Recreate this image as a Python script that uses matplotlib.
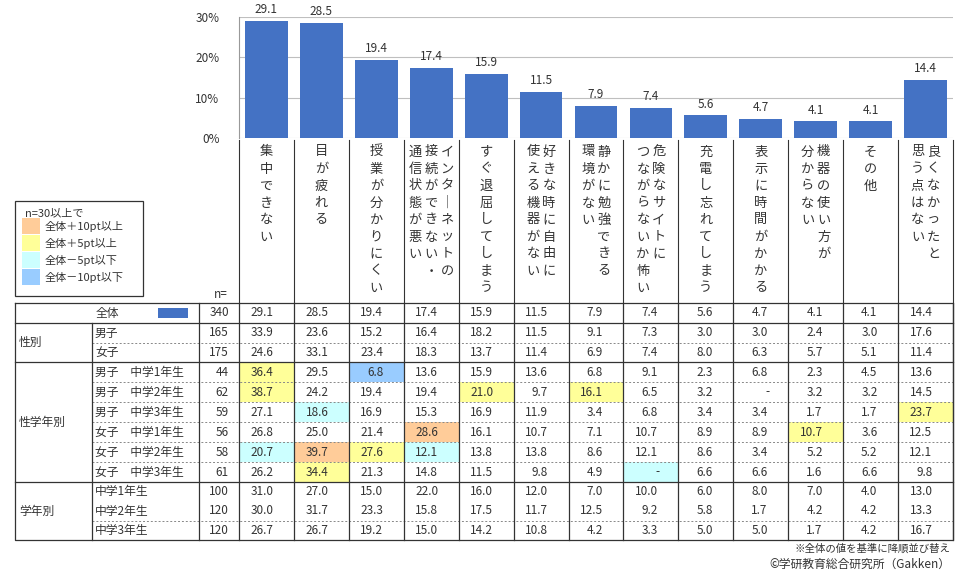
import matplotlib
matplotlib.use("Agg")
import matplotlib.pyplot as plt
from matplotlib.patches import Rectangle

plt.rcParams["font.family"] = ["Noto Sans CJK JP", "DejaVu Sans"]

categories = [
    ["集中できない"], ["目が疲れる"], ["授業が分かりにくい"],
    ["インターネットの", "接続ができない・", "通信状態が悪い"],
    ["すぐ退屈してしまう"], ["好きな時に自由に", "使える機器がない"],
    ["静かに勉強できる", "環境がない"], ["危険なサイトに", "つながらないか怖い"],
    ["充電し忘れてしまう"], ["表示に時間がかかる"], ["機器の使い方が", "分からない"],
    ["その他"], ["良くなかったと", "思う点はない"],
]
overall = [29.1, 28.5, 19.4, 17.4, 15.9, 11.5, 7.9, 7.4, 5.6, 4.7, 4.1, 4.1, 14.4]

row_labels = ["全体", "男子", "女子",
              "男子　中学1年生", "男子　中学2年生", "男子　中学3年生",
              "女子　中学1年生", "女子　中学2年生", "女子　中学3年生",
              "中学1年生", "中学2年生", "中学3年生"]
n_values = [340, 165, 175, 44, 62, 59, 56, 58, 61, 100, 120, 120]
table = [
    ["29.1", "28.5", "19.4", "17.4", "15.9", "11.5", "7.9", "7.4", "5.6", "4.7", "4.1", "4.1", "14.4"],
    ["33.9", "23.6", "15.2", "16.4", "18.2", "11.5", "9.1", "7.3", "3.0", "3.0", "2.4", "3.0", "17.6"],
    ["24.6", "33.1", "23.4", "18.3", "13.7", "11.4", "6.9", "7.4", "8.0", "6.3", "5.7", "5.1", "11.4"],
    ["36.4", "29.5", "6.8", "13.6", "15.9", "13.6", "6.8", "9.1", "2.3", "6.8", "2.3", "4.5", "13.6"],
    ["38.7", "24.2", "19.4", "19.4", "21.0", "9.7", "16.1", "6.5", "3.2", "-", "3.2", "3.2", "14.5"],
    ["27.1", "18.6", "16.9", "15.3", "16.9", "11.9", "3.4", "6.8", "3.4", "3.4", "1.7", "1.7", "23.7"],
    ["26.8", "25.0", "21.4", "28.6", "16.1", "10.7", "7.1", "10.7", "8.9", "8.9", "10.7", "3.6", "12.5"],
    ["20.7", "39.7", "27.6", "12.1", "13.8", "13.8", "8.6", "12.1", "8.6", "3.4", "5.2", "5.2", "12.1"],
    ["26.2", "34.4", "21.3", "14.8", "11.5", "9.8", "4.9", "-", "6.6", "6.6", "1.6", "6.6", "9.8"],
    ["31.0", "27.0", "15.0", "22.0", "16.0", "12.0", "7.0", "10.0", "6.0", "8.0", "7.0", "4.0", "13.0"],
    ["30.0", "31.7", "23.3", "15.8", "17.5", "11.7", "12.5", "9.2", "5.8", "1.7", "4.2", "4.2", "13.3"],
    ["26.7", "26.7", "19.2", "15.0", "14.2", "10.8", "4.2", "3.3", "5.0", "5.0", "1.7", "4.2", "16.7"],
]
# (row, col, level) level: +10, +5, -5, -10
highlights = [(3, 0, 5), (3, 2, -10), (4, 0, 5), (4, 4, 5), (4, 6, 5),
              (5, 1, -5), (5, 12, 5), (6, 3, 10), (6, 10, 5),
              (7, 0, -5), (7, 1, 10), (7, 2, 5), (7, 3, -5), (8, 1, 5), (8, 7, -5)]
level_colors = {10: "#FFCC99", 5: "#FFFF99", -5: "#CCFFFF", -10: "#99CCFF"}
legend_items = [(10, "全体＋10pt以上"), (5, "全体＋5pt以上"), (-5, "全体－5pt以下"), (-10, "全体－10pt以下")]
groups = [("性別", 1, 3), ("性学年別", 3, 9), ("学年別", 9, 12)]

BAR = "#4472C4"
W, H = 978, 580
X0, X1 = 239, 953
CW = (X1 - X0) / len(overall)
row_top = [303, 323, 343, 362, 382, 402, 422, 442, 462, 482, 501, 521]
row_bot = row_top[1:] + [540]
TXT = "#333333"

fig = plt.figure(figsize=(W / 100, H / 100), dpi=100)
ax = fig.add_axes([0, 0, 1, 1])
ax.set_xlim(0, W)
ax.set_ylim(H, 0)
ax.axis("off")

# bar chart
axb = fig.add_axes([X0 / W, (H - 138) / H, (X1 - X0) / W, 121 / H])
xs = range(len(overall))
axb.bar(xs, overall, width=0.78, color=BAR, zorder=2)
for i, v in enumerate(overall):
    axb.text(i, v + 1.2, f"{v:.1f}", ha="center", va="bottom", fontsize=8.5, color=TXT)
axb.set_xlim(-0.5, len(overall) - 0.5)
axb.set_ylim(0, 30)
axb.set_yticks([0, 10, 20, 30])
axb.set_yticklabels(["0%", "10%", "20%", "30%"], fontsize=8.5, color=TXT)
axb.set_xticks([])
axb.grid(axis="y", color="#bfbfbf", lw=0.8, zorder=0)
for s in ["top", "right", "bottom"]:
    axb.spines[s].set_visible(False)
axb.spines["left"].set_color("#999999")
axb.tick_params(axis="y", length=0, pad=14)
axb.patch.set_alpha(0)

# vertical category labels
for j, lines in enumerate(categories):
    cx = X0 + (j + 0.5) * CW
    k = len(lines)
    for li, line in enumerate(lines):
        x = cx + ((k - 1) / 2 - li) * 16
        for ci, ch in enumerate(line):
            if ch == "ー":
                ch = "｜"
            ax.text(x, 152 + ci * 17, ch, ha="center", va="center", fontsize=9.5, color=TXT)
for j in range(len(overall) + 1):
    ax.plot([X0 + j * CW] * 2, [140, 303], color="#333333", lw=0.8)
ax.text(228, 295, "n=", ha="right", va="center", fontsize=8.5, color=TXT)

# legend
ax.add_patch(Rectangle((15, 201), 128, 95, fill=False, ec="#333333", lw=0.9))
ax.text(25, 213, "n=30以上で", ha="left", va="center", fontsize=8, color=TXT)
for k, (lv, lab) in enumerate(legend_items):
    y = 226 + k * 17
    ax.add_patch(Rectangle((22, y - 8), 18, 16, color=level_colors[lv], lw=0))
    ax.text(45, y, lab, ha="left", va="center", fontsize=8, color=TXT)

# table cells
for (r, c, lv) in highlights:
    ax.add_patch(Rectangle((X0 + c * CW, row_top[r]), CW, row_bot[r] - row_top[r],
                           color=level_colors[lv], lw=0, zorder=0))
for r in range(len(row_labels)):
    yc = (row_top[r] + row_bot[r]) / 2
    if r == 0:
        ax.text(96, yc, row_labels[r], ha="left", va="center", fontsize=8.5, color=TXT)
        ax.add_patch(Rectangle((158, 308), 30, 10, color=BAR, lw=0))
    else:
        ax.text(95, yc, row_labels[r], ha="left", va="center", fontsize=8.5, color=TXT)
    ax.text(229, yc, str(n_values[r]), ha="right", va="center", fontsize=8.5, color=TXT)
    for c, s in enumerate(table[r]):
        ax.text(X0 + (c + 0.5) * CW + 7, yc, s, ha="right" if s != "-" else "center",
                va="center", fontsize=8.5, color=TXT)
for name, a, b in groups:
    ax.text(19, (row_top[a] + row_bot[b - 1]) / 2, name, ha="left", va="center", fontsize=8.5, color=TXT)

# grid lines
ax.plot([15, X1, X1, 15, 15], [303, 303, 540, 540, 303], color="#333333", lw=0.9)
for y in [323, 362, 482]:
    ax.plot([15, X1], [y, y], color="#333333", lw=0.9)
for r in range(1, len(row_labels)):
    if row_top[r] not in (323, 362, 482, 501):
        ax.plot([92, X1], [row_top[r]] * 2, color="#888888", lw=0.7, ls=(0, (2, 2)))
ax.plot([92, 92], [323, 540], color="#333333", lw=0.9)
for j in range(len(overall) + 1):
    ax.plot([X0 + j * CW] * 2, [303, 540], color="#333333", lw=0.9)
ax.plot([199, 199], [303, 540], color="#333333", lw=0.9)

ax.text(950, 549, "※全体の値を基準に降順並び替え", ha="right", va="center", fontsize=7.5, color=TXT)
ax.text(950, 564, "©学研教育総合研究所（Gakken）", ha="right", va="center", fontsize=8.5, color=TXT)

fig.savefig("out.png", dpi=100)
